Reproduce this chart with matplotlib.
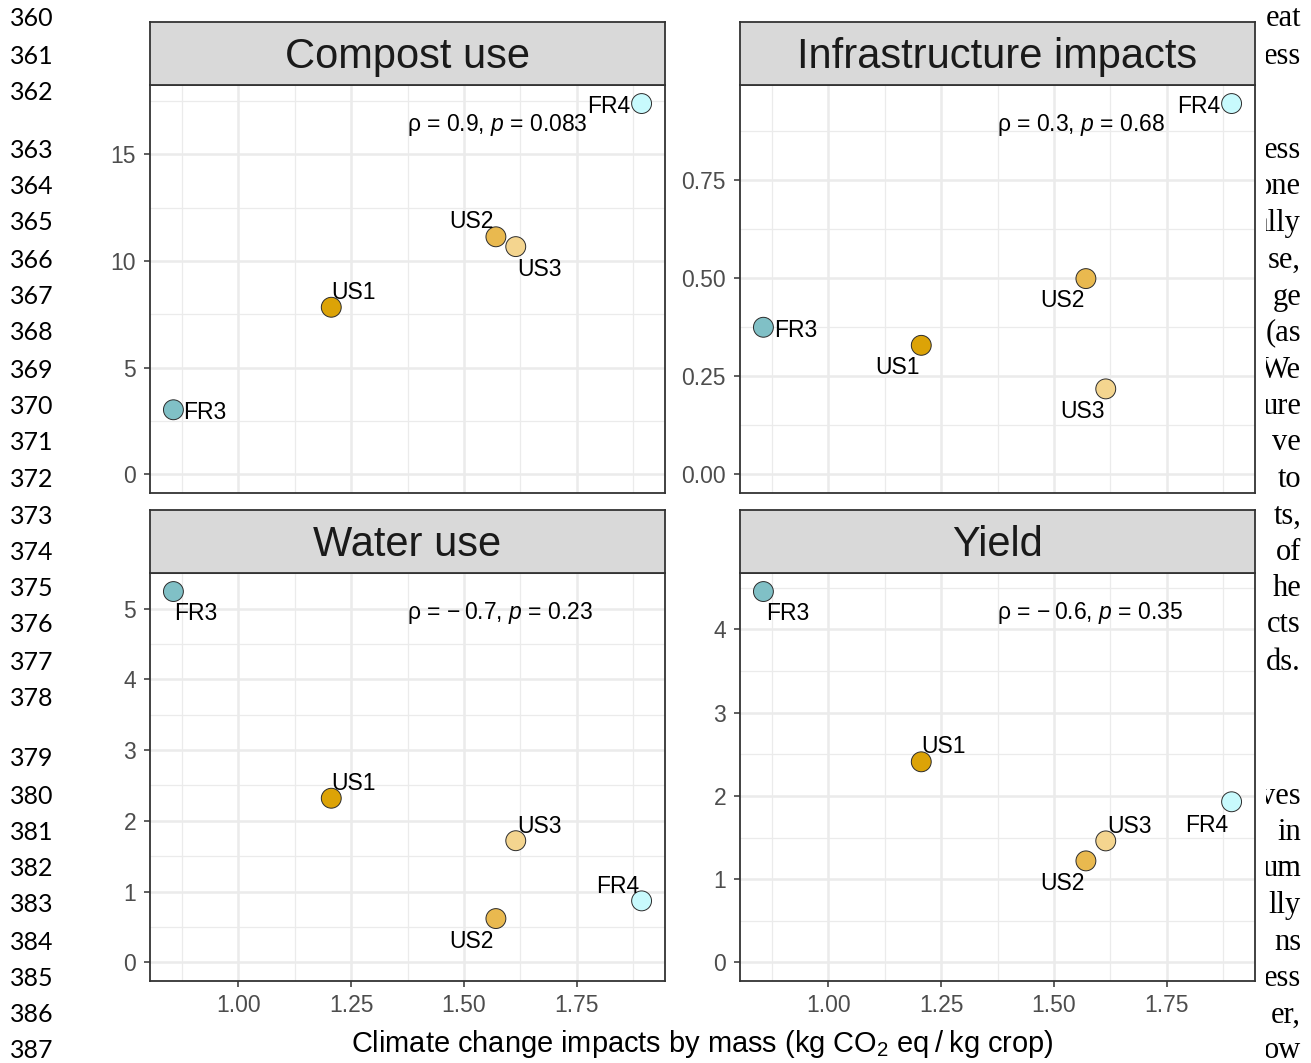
import matplotlib
matplotlib.use("Agg")
import matplotlib.pyplot as plt
from matplotlib.transforms import Bbox

plt.rcParams["font.family"] = ["Liberation Sans", "DejaVu Sans"]
plt.rcParams["mathtext.fontset"] = "custom"
plt.rcParams["mathtext.rm"] = "Liberation Sans"
plt.rcParams["mathtext.it"] = "Liberation Sans:italic"

# ---- data -------------------------------------------------------------
sites = ["FR3", "US1", "US2", "US3", "FR4"]
site_colors = ["#80c0c6", "#dca307", "#e9b94f", "#f4d58f", "#c8fafd"]
climate = [0.856, 1.206, 1.571, 1.615, 1.894]

panel_titles = ["Compost use", "Infrastructure impacts", "Water use", "Yield"]
compost_use = [3.03, 7.83, 11.13, 10.67, 17.37]
infrastructure = [0.375, 0.329, 0.499, 0.218, 0.945]
water_use = [5.24, 2.32, 0.62, 1.72, 0.87]
crop_yield = [4.455, 2.41, 1.22, 1.46, 1.93]
panel_values = [compost_use, infrastructure, water_use, crop_yield]

rho_values = [0.9, 0.3, -0.7, -0.6]
p_values = [0.083, 0.68, 0.23, 0.35]

x_ticks = [1.00, 1.25, 1.50, 1.75]
y_ticks = [[0, 5, 10, 15], [0.00, 0.25, 0.50, 0.75], [0, 1, 2, 3, 4, 5], [0, 1, 2, 3, 4]]
y_fmt = ["{:g}", "{:.2f}", "{:g}", "{:g}"]

line_numbers = list(range(360, 388))
margin_words = ["eat", "ess", "", "ess", "one", "ally", "se,", "ge", "(as", "We",
                "ure", "ve", "to", "ts,", "of", "he", "cts", "ds.", "", "",
                "ves", "in", "um", "lly", "ns", "ess", "er,", "ow"]

# ---- layout (figure pixels) ---------------------------------------------
W, H = 1311, 1063
line_y = [19, 56, 93, 151, 187, 223, 260, 297, 333, 370, 406, 442, 479, 516,
          552, 589, 625, 662, 698, 759, 796, 833, 869, 905, 942, 979, 1015, 1051]

# label offsets (pixels, +y downward) and alignment for each site in each panel
label_pos = [
    {"FR3": (10, 0, "left"), "US1": (0, -18, "left"), "US2": (-24, -18, "center"),
     "US3": (24, 20, "center"), "FR4": (-11, 0, "right")},
    {"FR3": (11, 0, "left"), "US1": (-24, 19, "center"), "US2": (-23, 19, "center"),
     "US3": (-23, 20, "center"), "FR4": (-11, 0, "right")},
    {"FR3": (22, 19, "center"), "US1": (22, -18, "center"), "US2": (-24, 20, "center"),
     "US3": (24, -17, "center"), "FR4": (-24, -17, "center")},
    {"FR3": (24, 19, "center"), "US1": (22, -18, "center"), "US2": (-23, 20, "center"),
     "US3": (24, -17, "center"), "FR4": (-25, 21, "center")},
]
text_drop = 3  # baseline correction for vertically centred labels

panel_left = [150, 740, 150, 740]
panel_top = [85, 85, 573, 573]
panel_w, panel_h, strip_h = 515, 408, 63

fig = plt.figure(figsize=(W / 100, H / 100), dpi=100)
fig.patch.set_facecolor("white")


def frac_rect(x0, y0, w, h):
    return [x0 / W, 1 - (y0 + h) / H, w / W, h / H]


xmin, xmax = min(climate), max(climate)
xpad = 0.05 * (xmax - xmin)
xlim = (xmin - xpad, xmax + xpad)
x_minor = [0.875, 1.125, 1.375, 1.625, 1.875]

border = "#333333"
grid_c = "#ebebeb"

for i in range(4):
    ax = fig.add_axes(frac_rect(panel_left[i], panel_top[i], panel_w, panel_h))
    vals = panel_values[i]
    lo, hi = min(0, min(vals)), max(vals)
    ypad = 0.05 * (hi - lo)
    ax.set_xlim(*xlim)
    ax.set_ylim(lo - ypad, hi + ypad)

    ax.set_xticks(x_ticks)
    ax.set_xticks(x_minor, minor=True)
    yt = y_ticks[i]
    step = yt[1] - yt[0]
    ax.set_yticks(yt)
    ax.set_yticks([t + step / 2 for t in [yt[0] - step] + yt
                   if lo - ypad < t + step / 2 < hi + ypad], minor=True)
    ax.set_yticklabels([y_fmt[i].format(t) for t in yt])
    ax.grid(True, which="major", color=grid_c, lw=1.8, zorder=0)
    ax.grid(True, which="minor", color=grid_c, lw=0.9, zorder=0)
    ax.set_axisbelow(True)
    for s in ax.spines.values():
        s.set_color(border)
        s.set_linewidth(1.3)

    ax.tick_params(axis="y", which="major", length=4, width=1.1, color=border,
                   labelcolor="#4d4d4d", labelsize=16.5, pad=6)
    ax.tick_params(axis="y", which="minor", length=0)
    if i >= 2:
        ax.set_xticklabels(["{:.2f}".format(t) for t in x_ticks])
        ax.tick_params(axis="x", which="major", length=4, width=1.1, color=border,
                       labelcolor="#4d4d4d", labelsize=16.5, pad=5)
    else:
        ax.tick_params(axis="x", which="major", length=0, labelbottom=False)
    ax.tick_params(axis="x", which="minor", length=0)

    ax.scatter(climate, vals, s=205, c=site_colors, edgecolors="#2b2b2b",
               linewidths=0.7, zorder=3)
    for name, xv, yv in zip(sites, climate, vals):
        dx, dy, ha = label_pos[i][name]
        ax.annotate(name, (xv, yv), xytext=(dx, -(dy + text_drop)),
                    textcoords="offset pixels", ha=ha, va="center",
                    fontsize=16.5, color="black", zorder=4)

    r, p = rho_values[i], p_values[i]
    r_txt = ("\u2212\u2009" + "{:.1f}".format(abs(r))) if r < 0 else "{:.1f}".format(r)
    ax.text(1.374, 0.903, "\u03c1 = " + r_txt + ", $\\mathit{p}$ = " + "{:g}".format(p),
            transform=ax.get_xaxis_transform(), ha="left", va="center",
            fontsize=16.5, color="black")

    # facet strip
    sax = fig.add_axes(frac_rect(panel_left[i], panel_top[i] - strip_h, panel_w, strip_h))
    sax.set_facecolor("#d9d9d9")
    sax.set_xticks([])
    sax.set_yticks([])
    for s in sax.spines.values():
        s.set_color(border)
        s.set_linewidth(1.3)
    sax.text(0.5, 0.45, panel_titles[i], transform=sax.transAxes, ha="center",
             va="center", fontsize=30, color="#1a1a1a")

fig.text(702 / W, 1 - 1044 / H,
         "Climate change impacts by mass (kg CO$_2$ eq\u2009/\u2009kg crop)",
         ha="center", va="center", fontsize=20.9, color="black")

# manuscript line numbers and the clipped margin text
clip = Bbox.from_extents(1266, 0, W, H)
for n, y, word in zip(line_numbers, line_y, margin_words):
    fig.text(10 / W, 1 - y / H, str(n), ha="left", va="center",
             fontsize=18, family=["Lato", "DejaVu Sans"], color="black")
    if word:
        t = fig.text(1301 / W, 1 - y / H, word, ha="right", va="center",
                     fontsize=22, family=["Liberation Serif", "DejaVu Serif"],
                     color="black")
        t.set_clip_box(clip)
        t.set_clip_on(True)

fig.savefig("out.png", dpi=100, facecolor="white")
